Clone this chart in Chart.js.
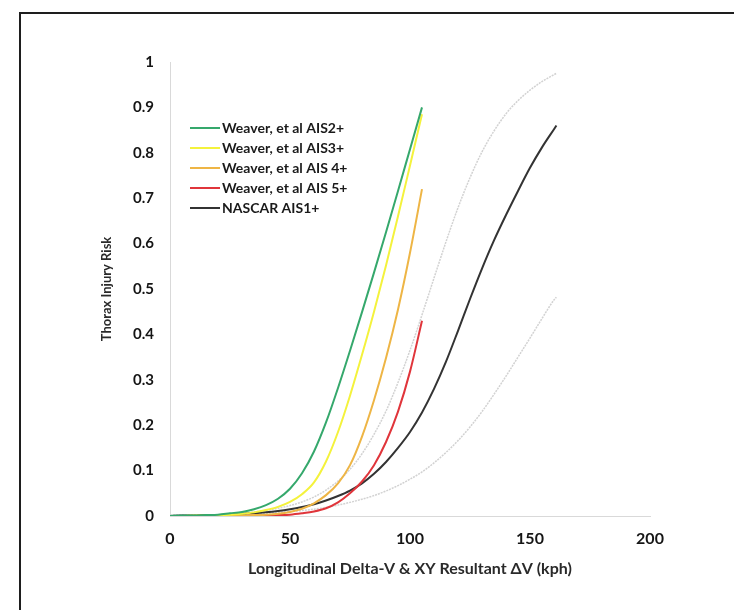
<!DOCTYPE html>
<html>
<head>
<meta charset="utf-8">
<script src="https://cdn.jsdelivr.net/npm/chart.js@4/dist/chart.umd.min.js"></script>
<style>
  html, body { margin: 0; padding: 0; background: #ffffff; }
  #wrap { position: relative; width: 734px; height: 610px; overflow: hidden; background: #ffffff; }
  #frame { position: absolute; left: 19px; top: 12px; width: 760px; height: 660px; border: 2px solid #1e1e1e; box-sizing: border-box; }
  #c { position: absolute; left: 0; top: 0; }
</style>
</head>
<body>
<div id="wrap">
  <div id="frame"></div>
  <canvas id="c" width="734" height="610"></canvas>
</div>
<script>
// Delta-V grids (kph)
const kphWeaver = [0,5,10,15,20,25,30,35,40,45,50,55,60,65,70,75,80,85,90,95,100,105];
const kphNascar = [0,5,10,15,20,25,30,35,40,45,50,55,60,65,70,75,80,85,90,95,100,105,110,115,120,125,130,135,140,145,150,155,160,161];

// Weaver et al thorax risk curves
const weaverAIS2 = [0.000,0.001,0.001,0.002,0.003,0.006,0.009,0.015,0.024,0.038,0.060,0.094,0.142,0.206,0.282,0.364,0.449,0.536,0.625,0.716,0.808,0.900];
const weaverAIS3 = [0.000,0.000,0.001,0.001,0.002,0.003,0.005,0.008,0.013,0.020,0.031,0.048,0.074,0.120,0.185,0.265,0.355,0.450,0.552,0.660,0.772,0.885];
const weaverAIS4 = [0.000,0.000,0.000,0.000,0.001,0.001,0.001,0.002,0.003,0.005,0.009,0.016,0.028,0.046,0.072,0.112,0.175,0.255,0.348,0.455,0.580,0.720];
const weaverAIS5 = [0.000,0.000,0.000,0.000,0.000,0.000,0.000,0.001,0.001,0.002,0.003,0.006,0.010,0.017,0.030,0.050,0.076,0.112,0.163,0.230,0.318,0.430];

// NASCAR AIS1+ curve with its upper and lower bounds
const nascarAIS1 = [0.000,0.001,0.001,0.002,0.002,0.003,0.005,0.006,0.008,0.011,0.015,0.020,0.026,0.034,0.044,0.056,0.072,0.093,0.119,0.150,0.185,0.228,0.280,0.340,0.408,0.478,0.545,0.607,0.663,0.716,0.767,0.812,0.852,0.860];
const nascarUpper = [0.001,0.001,0.002,0.002,0.003,0.004,0.006,0.009,0.012,0.017,0.023,0.031,0.042,0.057,0.077,0.103,0.137,0.180,0.231,0.294,0.365,0.443,0.524,0.604,0.679,0.745,0.802,0.848,0.886,0.915,0.938,0.957,0.972,0.975];
const nascarLower = [0.001,0.001,0.001,0.002,0.002,0.003,0.004,0.005,0.006,0.008,0.010,0.012,0.015,0.019,0.024,0.030,0.037,0.045,0.055,0.067,0.081,0.097,0.117,0.140,0.166,0.196,0.230,0.268,0.308,0.350,0.392,0.435,0.476,0.482];

// Axis ticks
const xTicks = [0, 50, 100, 150, 200];
const yTicks = [0, 0.1, 0.2, 0.3, 0.4, 0.5, 0.6, 0.7, 0.8, 0.9, 1];
const yTickLabels = ['0', '0.1', '0.2', '0.3', '0.4', '0.5', '0.6', '0.7', '0.8', '0.9', '1'];

const FONT = 'Lato, "Open Sans", sans-serif';

function pts(xs, ys) { return xs.map((x, i) => ({ x: x, y: ys[i] })); }

function curve(label, xs, ys, color, width, dash, inLegend) {
  return {
    label: label,
    data: pts(xs, ys),
    borderColor: color,
    backgroundColor: color,
    borderWidth: width,
    borderDash: dash || [],
    pointRadius: 0,
    fill: false,
    cubicInterpolationMode: 'monotone',
    inLegend: inLegend
  };
}

// Legend drawn inside the plot, upper left
const insideLegend = {
  id: 'insideLegend',
  afterDatasetsDraw(chart) {
    const ctx = chart.ctx;
    const area = chart.chartArea;
    const x0 = area.left + 20;
    const y0 = area.top + 66;
    ctx.save();
    ctx.font = 'bold 14px ' + FONT;
    ctx.textBaseline = 'middle';
    ctx.textAlign = 'left';
    let row = 0;
    chart.data.datasets.forEach(ds => {
      if (!ds.inLegend) return;
      const y = y0 + row * 20;
      ctx.strokeStyle = ds.borderColor;
      ctx.lineWidth = 2;
      ctx.setLineDash([]);
      ctx.beginPath();
      ctx.moveTo(x0, y);
      ctx.lineTo(x0 + 30, y);
      ctx.stroke();
      ctx.fillStyle = '#1a1a1a';
      ctx.fillText(ds.label, x0 + 32, y + 0.5);
      row++;
    });
    ctx.restore();
  }
};

new Chart(document.getElementById('c'), {
  type: 'line',
  data: {
    datasets: [
      curve('Weaver, et al AIS2+', kphWeaver, weaverAIS2, '#35a86c', 2, null, true),
      curve('Weaver, et al AIS3+', kphWeaver, weaverAIS3, '#f4f23c', 2, null, true),
      curve('Weaver, et al AIS 4+', kphWeaver, weaverAIS4, '#eeb545', 2, null, true),
      curve('Weaver, et al AIS 5+', kphWeaver, weaverAIS5, '#e0353b', 2, null, true),
      curve('NASCAR AIS1+', kphNascar, nascarAIS1, '#333333', 2, null, true),
      curve('NASCAR AIS1+ upper', kphNascar, nascarUpper, '#d2d2d2', 1.5, [2, 1], false),
      curve('NASCAR AIS1+ lower', kphNascar, nascarLower, '#d2d2d2', 1.5, [2, 1], false)
    ]
  },
  options: {
    responsive: false,
    animation: false,
    layout: { padding: { left: 95, top: 62, right: 84, bottom: 28 } },
    plugins: {
      legend: { display: false },
      tooltip: { enabled: false }
    },
    scales: {
      x: {
        type: 'linear',
        min: 0, max: 200,
        afterBuildTicks: s => { s.ticks = xTicks.map(v => ({ value: v })); },
        afterFit: s => { s.height = 66; },
        grid: { display: true, drawOnChartArea: false, drawTicks: false },
        border: { display: true, color: '#d9d9d9', width: 1 },
        ticks: { font: { family: FONT, size: 16, weight: 'bold' }, color: '#151515', padding: 13, maxRotation: 0 },
        title: {
          display: true,
          text: 'Longitudinal Delta-V & XY Resultant \u0394V (kph)',
          font: { family: FONT, size: 16, weight: 'bold' },
          color: '#2a2a2a',
          padding: { top: 4, bottom: 4 }
        }
      },
      y: {
        min: 0, max: 1,
        afterBuildTicks: s => { s.ticks = yTicks.map(v => ({ value: v })); },
        afterFit: s => { s.width = 75; },
        grid: { display: true, drawOnChartArea: false, drawTicks: false },
        border: { display: true, color: '#d9d9d9', width: 1 },
        ticks: {
          font: { family: FONT, size: 15, weight: 'bold' }, color: '#151515', padding: 16,
          callback: (v) => { const i = yTicks.indexOf(v); return i >= 0 ? yTickLabels[i] : ''; }
        },
        title: {
          display: true,
          text: 'Thorax Injury Risk',
          font: { family: FONT, size: 13, weight: 'bold' },
          color: '#2a2a2a',
          padding: { top: 4, bottom: 4 }
        }
      }
    }
  },
  plugins: [insideLegend]
});
</script>
</body>
</html>
